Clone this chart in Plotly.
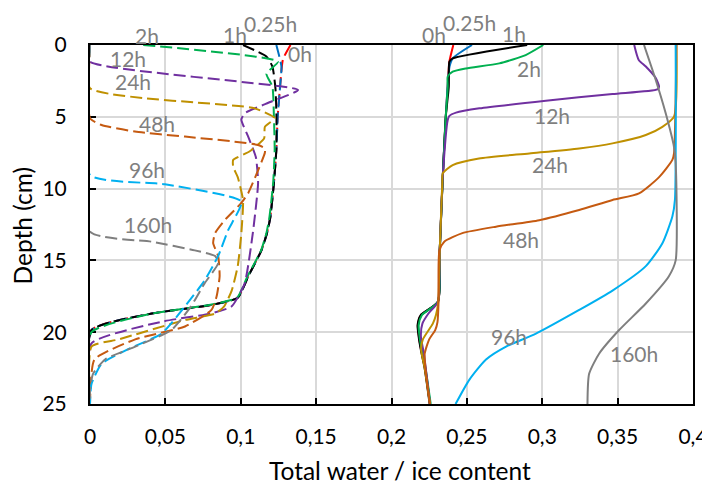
import plotly.graph_objects as go

# ---------------- data: ice content (dashed) ----------------
ice_0h_depth = [0, 1, 3, 5, 7.3, 9.6, 12.0, 13.1, 14.3, 16.1, 17.6, 18.1, 18.7, 19.85, 25]
ice_0h_val = [0.133, 0.128, 0.126, 0.1245, 0.1236, 0.122, 0.1196, 0.1174, 0.1137, 0.105, 0.098, 0.0806, 0.041, 0.001, 0]

ice_025h_depth = [0, 1.5, 3, 5, 7.3, 9.6, 12.0, 13.1, 14.3, 16.1, 17.6, 18.1, 18.7, 19.85, 25]
ice_025h_val = [0.1236, 0.127, 0.126, 0.1245, 0.1236, 0.122, 0.1196, 0.1174, 0.1137, 0.105, 0.098, 0.0806, 0.041, 0.001, 0]

ice_1h_depth = [0, 0.8, 1.5, 3, 5, 7.3, 9.6, 12.0, 13.1, 14.3, 16.1, 17.6, 18.1, 18.7, 19.85, 25]
ice_1h_val = [0.1015, 0.117, 0.121, 0.123, 0.1237, 0.1236, 0.122, 0.1196, 0.1174, 0.1137, 0.105, 0.098, 0.0806, 0.041, 0.001, 0]

ice_2h_depth = [0, 1.16, 2.0, 2.9, 5, 7.3, 9.6, 12.0, 13.1, 14.3, 16.1, 17.6, 18.1, 18.75, 20.0, 25]
ice_2h_val = [0.0353, 0.1247, 0.117, 0.121, 0.122, 0.1225, 0.1215, 0.119, 0.117, 0.1135, 0.1045, 0.0975, 0.079, 0.039, 0.001, 0]

ice_12h_depth = [0, 1.16, 3.13, 3.95, 4.76, 5.2, 6.4, 7.8, 9.6, 13.1, 16.6, 18.2, 18.69, 19.27, 20.78, 25]
ice_12h_val = [0, 0, 0.138, 0.12, 0.1026, 0.1004, 0.105, 0.110, 0.1115, 0.108, 0.1026, 0.094, 0.0806, 0.0475, 0.001, 0]

ice_24h_depth = [0, 3.0, 4.4, 5.1, 5.7, 6.5, 7.4, 8.0, 8.5, 9.2, 10.8, 13.1, 15.4, 17.1, 18.2, 18.7, 19.15, 20.5, 21.0, 25]
ice_24h_val = [0, 0, 0.109, 0.1225, 0.116, 0.1155, 0.106, 0.095, 0.095, 0.098, 0.1015, 0.1004, 0.098, 0.094, 0.089, 0.083, 0.063, 0.019, 0.001, 0]

ice_48h_depth = [0, 5.1, 5.57, 6.03, 6.38, 6.73, 6.96, 7.2, 7.5, 8.6, 10.3, 11.0, 12.2, 13.1, 13.8, 14.7, 16.1, 17.5, 18.45, 19.6, 20.5, 21.9, 25]
ice_48h_val = [0, 0, 0.0077, 0.0298, 0.063, 0.096, 0.1115, 0.116, 0.116, 0.112, 0.105, 0.1004, 0.0894, 0.083, 0.0817, 0.085, 0.086, 0.084, 0.0806, 0.063, 0.030, 0.003, 0]

ice_96h_depth = [0, 9.05, 9.7, 10.9, 12.9, 14.7, 16.4, 18.2, 20.1, 21.2, 22.2, 23.6, 25]
ice_96h_val = [0, 0, 0.0497, 0.1004, 0.0916, 0.085, 0.076, 0.063, 0.0475, 0.025, 0.0077, 0.001, 0]

ice_160h_depth = [0, 13.0, 13.7, 14.3, 14.7, 15.2, 16.6, 18.2, 19.85, 21.0, 21.9, 22.9, 24, 25]
ice_160h_val = [0, 0, 0.041, 0.0695, 0.083, 0.085, 0.076, 0.067, 0.054, 0.030, 0.010, 0.002, 0, 0]

# ---------------- data: total water content (solid) ----------------
tw_0h_depth = [0, 1.16, 2.5, 5, 9.2, 14.3, 17.9, 18.8, 19.5, 20.3, 21.2, 22.4, 25]
tw_0h_val = [0.241, 0.2384, 0.2375, 0.236, 0.234, 0.232, 0.2307, 0.2196, 0.2175, 0.2182, 0.2196, 0.222, 0.2255]

tw_025h_depth = [0, 0.93, 1.5, 2.5, 5, 9.2, 14.3, 17.9, 18.8, 19.5, 20.3, 21.2, 22.4, 25]
tw_025h_val = [0.2534, 0.2406, 0.2385, 0.2375, 0.236, 0.234, 0.232, 0.2307, 0.2198, 0.2177, 0.2184, 0.2198, 0.2222, 0.2257]

tw_1h_depth = [0, 0.93, 1.16, 2.9, 5, 9.2, 14.3, 17.9, 18.8, 19.5, 20.3, 21.2, 22.4, 25]
tw_1h_val = [0.290, 0.2406, 0.2384, 0.238, 0.236, 0.234, 0.232, 0.2307, 0.2194, 0.2173, 0.218, 0.2194, 0.2218, 0.2253]

tw_2h_depth = [0, 0.7, 1.28, 1.63, 1.86, 2.2, 2.9, 5, 9.2, 14.3, 17.9, 18.8, 19.5, 20.3, 21.2, 22.4, 25]
tw_2h_val = [0.3007, 0.289, 0.2715, 0.2494, 0.2406, 0.2373, 0.2373, 0.236, 0.234, 0.232, 0.2307, 0.2202, 0.218, 0.2186, 0.22, 0.2224, 0.226]

tw_12h_depth = [0, 1.04, 1.5, 2.3, 2.9, 3.09, 3.41, 3.88, 4.41, 4.71, 4.94, 5.22, 9.2, 14.3, 17.9, 18.7, 19.4, 20.3, 21.5, 25]
tw_12h_val = [0.361, 0.364, 0.3687, 0.3753, 0.3775, 0.3764, 0.3466, 0.3024, 0.2583, 0.2428, 0.2384, 0.2373, 0.234, 0.232, 0.2307, 0.2245, 0.2205, 0.2195, 0.2215, 0.2255]

tw_24h_depth = [0, 4.99, 5.7, 6.27, 6.85, 7.2, 7.55, 7.9, 8.36, 8.94, 9.6, 14.3, 17.9, 18.8, 19.4, 20.5, 21.2, 22.5, 25]
tw_24h_val = [0.389, 0.3874, 0.3797, 0.3687, 0.3466, 0.3245, 0.2914, 0.258, 0.2406, 0.234, 0.2337, 0.232, 0.231, 0.2295, 0.2274, 0.2208, 0.2196, 0.222, 0.2255]

tw_48h_depth = [0, 7.54, 8.0, 9.2, 10.33, 10.79, 11.49, 12.2, 12.65, 13.1, 13.7, 14.3, 17.9, 19.3, 19.85, 20.5, 21.5, 22.5, 25]
tw_48h_val = [0.389, 0.3874, 0.3863, 0.3775, 0.3642, 0.3466, 0.3245, 0.298, 0.2693, 0.247, 0.235, 0.2318, 0.2312, 0.2305, 0.229, 0.225, 0.222, 0.2225, 0.2255]

tw_96h_depth = [0, 10.8, 11.95, 13.8, 15.4, 17.1, 18.45, 20.1, 21.0, 21.9, 23.3, 25]
tw_96h_val = [0.3885, 0.388, 0.3863, 0.3797, 0.3687, 0.3466, 0.3245, 0.2958, 0.276, 0.2627, 0.2517, 0.2425]

tw_160h_depth = [0, 2.44, 4.76, 7.1, 8.2, 15.0, 16.1, 18.0, 19.85, 21.5, 22.9, 25]
tw_160h_val = [0.3675, 0.3753, 0.3819, 0.3874, 0.3885, 0.3885, 0.384, 0.3687, 0.351, 0.3377, 0.3311, 0.33]

series_names = ["0h", "0.25h", "1h", "2h", "12h", "24h", "48h", "96h", "160h"]
series_colors = ["#FF0000", "#0070C0", "#000000", "#00B050", "#7030A0",
                 "#BF9000", "#C55A11", "#00B0F0", "#7F7F7F"]

ice_series = [
    (ice_0h_depth, ice_0h_val), (ice_025h_depth, ice_025h_val), (ice_1h_depth, ice_1h_val),
    (ice_2h_depth, ice_2h_val), (ice_12h_depth, ice_12h_val), (ice_24h_depth, ice_24h_val),
    (ice_48h_depth, ice_48h_val), (ice_96h_depth, ice_96h_val), (ice_160h_depth, ice_160h_val),
]
tw_series = [
    (tw_0h_depth, tw_0h_val), (tw_025h_depth, tw_025h_val), (tw_1h_depth, tw_1h_val),
    (tw_2h_depth, tw_2h_val), (tw_12h_depth, tw_12h_val), (tw_24h_depth, tw_24h_val),
    (tw_48h_depth, tw_48h_val), (tw_96h_depth, tw_96h_val), (tw_160h_depth, tw_160h_val),
]

# label positions (x value, depth in cm) for each series
ice_label_x = [0.1391, 0.1197, 0.0960, 0.0376, 0.0253, 0.0285, 0.0444, 0.0375, 0.0386]
ice_label_y = [0.58, -1.5, -0.74, -0.63, 0.93, 2.51, 5.50, 8.70, 12.53]
tw_label_x = [0.2285, 0.2517, 0.2815, 0.2914, 0.3064, 0.3051, 0.2859, 0.2781, 0.3609]
tw_label_y = [-0.70, -1.6, -0.81, 1.62, 4.94, 8.29, 13.53, 20.31, 21.47]

x_tickvals = [0, 0.05, 0.1, 0.15, 0.2, 0.25, 0.3, 0.35, 0.4]
x_ticktext = ["0", "0,05", "0,1", "0,15", "0,2", "0,25", "0,3", "0,35", "0,4"]
y_tickvals = [0, 5, 10, 15, 20, 25]
DEPTH_MAX = 25

FONT = "Lato, 'Open Sans', Arial, sans-serif"

fig = go.Figure()
for (d, v), name, col in zip(ice_series, series_names, series_colors):
    fig.add_trace(go.Scatter(x=v, y=d, mode="lines", name=name + " ice",
                             line=dict(color=col, width=2, dash="12px,5px",
                                       shape="spline", smoothing=0.5)))
for (d, v), name, col in zip(tw_series, series_names, series_colors):
    fig.add_trace(go.Scatter(x=v, y=d, mode="lines", name=name + " total",
                             line=dict(color=col, width=2, shape="spline", smoothing=0.6)))

annotations = []
for name, x, y in list(zip(series_names, ice_label_x, ice_label_y)) + list(zip(series_names, tw_label_x, tw_label_y)):
    annotations.append(dict(x=x, y=1 - y / DEPTH_MAX, xref="x", yref="paper", text=name,
                            showarrow=False, xanchor="center", yanchor="middle",
                            font=dict(family=FONT, size=21, color="#7F7F7F")))
annotations.append(dict(x=0.514, y=-0.184, xref="paper", yref="paper",
                        text="Total water / ice content", showarrow=False,
                        xanchor="center", yanchor="middle",
                        font=dict(family=FONT, size=24.5, color="#000000")))
annotations.append(dict(x=-0.112, y=0.496, xref="paper", yref="paper",
                        text="Depth (cm)", showarrow=False, textangle=-90,
                        xanchor="center", yanchor="middle",
                        font=dict(family=FONT, size=24.5, color="#000000")))

fig.update_layout(
    width=702, height=478,
    autosize=False,
    margin=dict(l=82, r=17, t=37, b=82),
    paper_bgcolor="white", plot_bgcolor="white",
    showlegend=False,
    font=dict(family=FONT, size=21, color="#000000"),
    annotations=annotations,
)
fig.update_xaxes(range=[0, 0.4], tickvals=x_tickvals, ticktext=x_ticktext,
                 showgrid=True, gridcolor="#D9D9D9", gridwidth=1.5,
                 ticks="inside", ticklen=6, tickwidth=1.5, tickcolor="#000000",
                 showline=True, mirror=True, linecolor="#000000", linewidth=2,
                 zeroline=False, ticklabelstandoff=13, layer="below traces",
                 automargin=False)
fig.update_yaxes(range=[25, 0], tickvals=y_tickvals,
                 showgrid=True, gridcolor="#D9D9D9", gridwidth=1.5,
                 ticks="inside", ticklen=6, tickwidth=1.5, tickcolor="#000000",
                 showline=True, mirror=True, linecolor="#000000", linewidth=2,
                 zeroline=False, ticklabelstandoff=17, layer="below traces",
                 automargin=False)

fig.write_html("out.html")
